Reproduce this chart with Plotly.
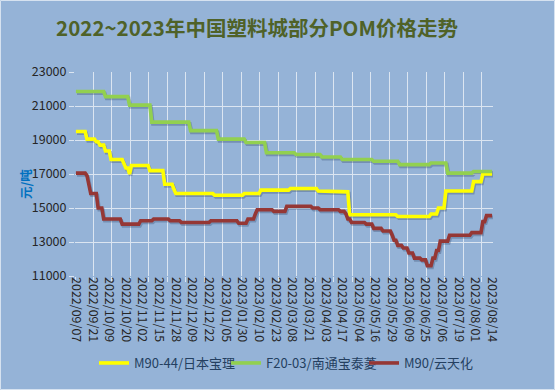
import plotly.graph_objects as go
import numpy as np

# Tick labels (every 9th trading day)
date_labels = ["2022/09/07", "2022/09/21", "2022/10/09", "2022/10/20", "2022/11/02",
               "2022/11/15", "2022/11/28", "2022/12/09", "2022/12/22", "2023/01/05",
               "2023/01/30", "2023/02/10", "2023/02/23", "2023/03/08", "2023/03/21",
               "2023/04/03", "2023/04/17", "2023/05/04", "2023/05/16", "2023/05/29",
               "2023/06/09", "2023/06/25", "2023/07/06", "2023/07/19", "2023/08/01",
               "2023/08/14"]
n_days = 226

# Step series encoded as (run length in trading days, price)
yellow_runs = [6, 5, 2, 3, 3, 7, 1, 2, 1, 10, 8, 5, 1, 21, 16, 9, 16, 15, 14, 3, 26, 18, 4, 4, 15, 5, 6]
yellow_vals = [19500, 19050, 18900, 18700, 18350, 17850, 17600, 17350, 17000, 17500, 17200, 16400, 16100,
               15850, 15750, 15850, 16050, 16150, 16000, 15950, 14600, 14500, 14650, 15000, 16000, 16550, 17000]

green_runs = [16, 13, 12, 21, 15, 15, 11, 16, 14, 11, 17, 14, 17, 9, 14, 11]
green_vals = [21850, 21550, 21050, 20050, 19550, 19050, 18850, 18250, 18150, 18000, 17850, 17750,
              17550, 17650, 17050, 17150]

red_runs = [6, 1, 1, 4, 3, 10, 10, 7, 9, 6, 16, 15, 5, 4, 1, 9, 7, 14, 4, 11, 3, 1, 2, 8, 4, 5, 5,
            1, 2, 3, 3, 3, 4, 3, 3, 2, 2, 5, 12, 6, 2, 4]
red_vals = [17050, 16900, 16400, 15850, 15000, 14350, 14050, 14250, 14350, 14250, 14150, 14250, 14100,
            14350, 14650, 14900, 14800, 15100, 15000, 14900, 14800, 14650, 14350, 14150, 14050, 13800,
            13650, 13400, 13100, 12800, 12650, 12350, 12050, 11950, 11600, 12050, 12500, 13050, 13400,
            13550, 14200, 14550]

series_names = ["M90-44/日本宝理", "F20-03/南通宝泰菱", "M90/云天化"]
series_colors = ["#ffff00", "#92d050", "#953735"]
legend_ids = ["legend", "legend2", "legend3"]

days = list(range(n_days))
yellow = np.repeat(yellow_vals, yellow_runs)
green = np.repeat(green_vals, green_runs)
red = np.repeat(red_vals, red_runs)

FONT = "Noto Sans CJK SC, Noto Sans, sans-serif"
GRID = "#dbe5f1"
BG = "#95b3d7"
X_RANGE = [-0.5, n_days - 0.5]
Y_RANGE = [11000, 23000]
L, R, T, B = 75, 62, 72, 114
PW, PH = 555 - L - R, 390 - T - B

fig = go.Figure()
# soft drop shadows (drawn on base axes, below the lines)
for vals in [yellow, green, red]:
    fig.add_trace(go.Scatter(x=days, y=vals, mode="lines", showlegend=False, hoverinfo="skip",
                             line=dict(color="rgba(40,60,95,0.30)", width=3.6),
                             xaxis="x", yaxis="y"))
# real lines on an identical overlay so they sit above the shadows
for name, vals, col, lg in zip(series_names, [yellow, green, red], series_colors, legend_ids):
    fig.add_trace(go.Scatter(x=days, y=vals, mode="lines", name=name, legend=lg,
                             line=dict(color=col, width=3.6), xaxis="x2", yaxis="y2"))

legend_left_px = [94, 226, 364]
legend_common = dict(orientation="h", xanchor="left", yanchor="middle",
                     y=(390 - B - 363) / PH, bgcolor="rgba(0,0,0,0)",
                     font=dict(size=13, color="#243f60"), itemwidth=30)

fig.update_layout(
    width=555, height=390,
    paper_bgcolor=BG, plot_bgcolor=BG,
    margin=dict(l=L, r=R, t=T, b=B),
    font=dict(family=FONT, size=12.5, color="#262626"),
    title=dict(text="<b>2022~2023年中国塑料城部分POM价格走势</b>",
               font=dict(family=FONT, size=20.5, color="#4f6228"),
               x=257 / 555, xref="container", xanchor="center",
               y=1 - 29 / 390, yref="container", yanchor="middle"),
    # base axes: shifted slightly so the shadows fall down-right of the lines
    xaxis=dict(range=[X_RANGE[0] - 0.6, X_RANGE[1] - 0.6], tickmode="array",
               tickvals=[v - 0.6 for v in range(0, n_days, 9)], ticktext=date_labels,
               tickangle=90, showgrid=False, zeroline=False, showline=False, ticks="",
               tickfont=dict(size=12.5, color="#262626"),
               minor=dict(tickmode="linear", tick0=-0.5 - 0.6, dtick=10, showgrid=True,
                          gridcolor=GRID, gridwidth=1, ticks="outside", ticklen=5,
                          tickcolor=GRID)),
    yaxis=dict(range=[Y_RANGE[0] + 100, Y_RANGE[1] + 100], tickmode="array",
               tickvals=[v + 100 for v in range(11000, 23001, 2000)],
               ticktext=[str(v) for v in range(11000, 23001, 2000)],
               showgrid=True, gridcolor=GRID,
               gridwidth=1, ticks="outside", ticklen=5, tickcolor=GRID, zeroline=False,
               showline=False, tickfont=dict(size=12.5, color="#262626")),
    xaxis2=dict(range=X_RANGE, overlaying="x", anchor="y2", visible=False),
    yaxis2=dict(range=Y_RANGE, overlaying="y", anchor="x2", visible=False),
    legend=dict(x=(legend_left_px[0] - L) / PW, **legend_common),
    legend2=dict(x=(legend_left_px[1] - L) / PW, **legend_common),
    legend3=dict(x=(legend_left_px[2] - L) / PW, **legend_common),
    showlegend=True,
)

# chart-area frame
fig.add_shape(type="rect", xref="paper", yref="paper",
              x0=(0.5 - L) / PW, x1=(554.5 - L) / PW,
              y0=(390 - B - 389.5) / PH, y1=(390 - B - 0.5) / PH,
              line=dict(color="#d6e2f0", width=1), fillcolor="rgba(0,0,0,0)", layer="below")

fig.add_annotation(text="<b>元/吨</b>", textangle=-90, xref="paper", yref="paper",
                   x=(25 - L) / PW, y=(390 - B - 184) / PH, showarrow=False,
                   xanchor="center", yanchor="middle",
                   font=dict(family=FONT, size=12.5, color="#0070c0"))

fig.write_html("out.html", config={"displayModeBar": False},
               post_script="document.body.style.margin='0';document.body.style.overflow='hidden';")
